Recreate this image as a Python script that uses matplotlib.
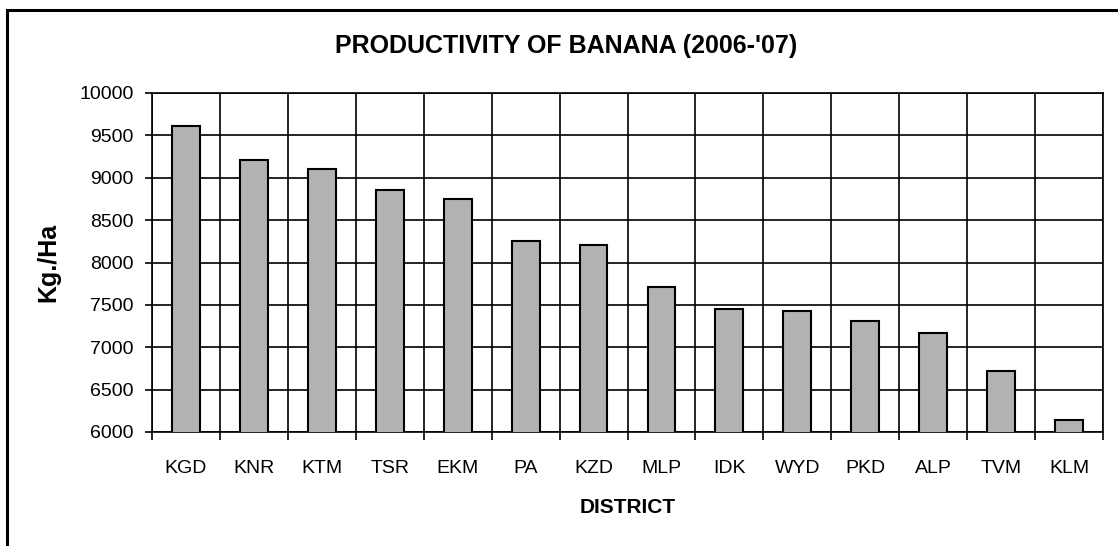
import numpy as np
import matplotlib.pyplot as plt
from matplotlib.patches import Rectangle

# Districts and productivity values (Kg./Ha)
districts = ["KGD", "KNR", "KTM", "TSR", "EKM", "PA", "KZD",
             "MLP", "IDK", "WYD", "PKD", "ALP", "TVM", "KLM"]
productivity = [9615, 9215, 9100, 8860, 8745, 8250, 8205,
                7715, 7450, 7430, 7310, 7165, 6715, 6145]
y_ticks = [6000, 6500, 7000, 7500, 8000, 8500, 9000, 9500, 10000]

plt.rcParams["font.family"] = ["Liberation Sans", "DejaVu Sans"]

fig = plt.figure(figsize=(11.18, 5.46), dpi=100)
ax = fig.add_axes([152 / 1118, 1 - 432 / 546, 951 / 1118, 339 / 546])

x = np.arange(len(districts))
ax.bar(x, productivity, width=0.41, color="#b2b2b2",
       edgecolor="black", linewidth=1.5, zorder=3)

ax.set_xlim(-0.5, len(districts) - 0.5)
ax.set_ylim(6000, 10000)
ax.set_yticks(y_ticks)
ax.set_yticklabels([str(v) for v in y_ticks], fontsize=14)
ax.set_xticks(x)
ax.set_xticklabels(districts, fontsize=14)
ax.tick_params(axis="x", which="major", length=0, pad=20)
ax.set_xticks(np.arange(-0.5, len(districts)), minor=True)
ax.tick_params(axis="x", which="minor", length=6, width=1.2, direction="out")
ax.tick_params(axis="y", length=5, width=1.2, direction="out", pad=8)

# grid lines: horizontal at value ticks, vertical at category boundaries
ax.grid(axis="y", which="major", color="black", linewidth=1.2, zorder=0)
ax.grid(axis="x", which="minor", color="black", linewidth=1.2, zorder=0)
for s in ax.spines.values():
    s.set_linewidth(1.2)

ax.set_ylabel("Kg./Ha", fontsize=18, fontweight="bold", labelpad=14)
ax.set_xlabel("DISTRICT", fontsize=15, fontweight="bold", labelpad=15)

fig.text(566 / 1118, 1 - 46 / 546, "PRODUCTIVITY OF BANANA (2006-'07)",
         fontsize=18, fontweight="bold", ha="center", va="center")

# outer chart border (runs off the right and bottom of the image)
fig.patches.append(Rectangle((7 / 1118, -0.1), 1.2, 1 - 9.5 / 546 + 0.1,
                             transform=fig.transFigure, fill=False,
                             edgecolor="black", linewidth=2.2))

fig.savefig("out.png", dpi=100)
